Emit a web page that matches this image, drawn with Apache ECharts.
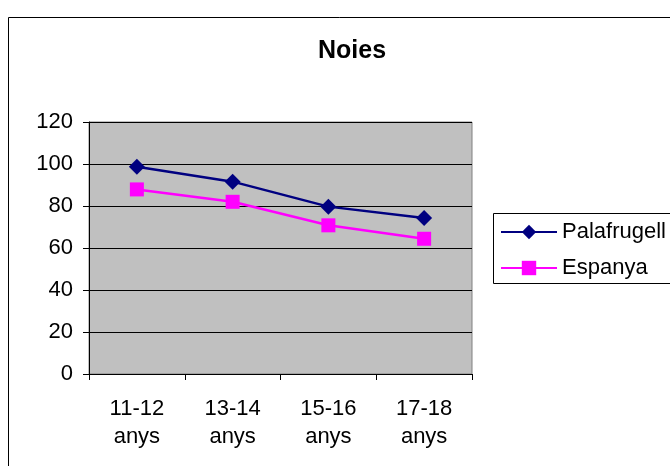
<!DOCTYPE html>
<html>
<head>
<meta charset="utf-8">
<script src="https://cdn.jsdelivr.net/npm/echarts@6/dist/echarts.min.js"></script>
<style>
  html, body { margin: 0; padding: 0; background: #fff; }
  #chart { width: 670px; height: 466px; }
</style>
</head>
<body>
<div id="chart"></div>
<script>
// dades
const categories = ['11-12\nanys', '13-14\nanys', '15-16\nanys', '17-18\nanys'];
const palafrugell = [98.7, 91.6, 79.7, 74.3];
const espanya = [87.9, 82.0, 70.8, 64.4];
const yTicks = { min: 0, max: 120, interval: 20 };

const font = 'Liberation Sans, Arial, sans-serif';
const chart = echarts.init(document.getElementById('chart'));

let option = {
  animation: false,
  backgroundColor: '#fff',
  title: {
    text: 'Noies',
    left: 347,
    top: 34,
    textAlign: 'center',
    textStyle: { fontFamily: font, fontSize: 25, fontWeight: 'bold', color: '#000' }
  },
  graphic: [
    {
      type: 'rect',
      shape: { x: 8.5, y: 17.5, width: 700, height: 500 },
      style: { fill: 'none', stroke: '#000', lineWidth: 1 },
      z: -10
    },
    {
      type: 'rect',
      shape: { x: 493.5, y: 213.5, width: 200, height: 70 },
      style: { fill: '#fff', stroke: '#000', lineWidth: 1 },
      z: 0
    }
  ],
  legend: {
    orient: 'vertical',
    left: 500,
    top: 221,
    padding: 0,
    itemWidth: 56,
    itemHeight: 18,
    itemGap: 14,
    z: 5,
    textStyle: { fontFamily: font, fontSize: 22, color: '#000' },
    data: ['Palafrugell', 'Espanya']
  },
  grid: {
    left: 89,
    top: 122,
    width: 383,
    height: 252,
    show: true,
    backgroundColor: '#c0c0c0',
    borderColor: '#808080',
    borderWidth: 1
  },
  xAxis: {
    type: 'category',
    data: categories,
    boundaryGap: true,
    axisLine: { lineStyle: { color: '#000', width: 1 } },
    axisTick: { show: true, length: 6, lineStyle: { color: '#000' } },
    axisLabel: { fontFamily: font, fontSize: 22, color: '#000', lineHeight: 28, margin: 21 }
  },
  yAxis: {
    type: 'value',
    min: yTicks.min,
    max: yTicks.max,
    interval: yTicks.interval,
    axisLine: { show: true, lineStyle: { color: '#000', width: 1 } },
    axisTick: { show: true, length: 6, lineStyle: { color: '#000' } },
    axisLabel: { fontFamily: font, fontSize: 22, color: '#000', margin: 16 },
    splitLine: { lineStyle: { color: '#000', width: 1 } }
  },
  series: [
    {
      name: 'Palafrugell',
      type: 'line',
      data: palafrugell,
      symbol: 'diamond',
      symbolSize: 16,
      color: '#000080',
      lineStyle: { width: 2.5, color: '#000080' },
      itemStyle: { color: '#000080' }
    },
    {
      name: 'Espanya',
      type: 'line',
      data: espanya,
      symbol: 'rect',
      symbolSize: 14,
      color: '#ff00ff',
      lineStyle: { width: 2.5, color: '#ff00ff' },
      itemStyle: { color: '#ff00ff' }
    }
  ]
};

chart.setOption(option);
</script>
</body>
</html>
